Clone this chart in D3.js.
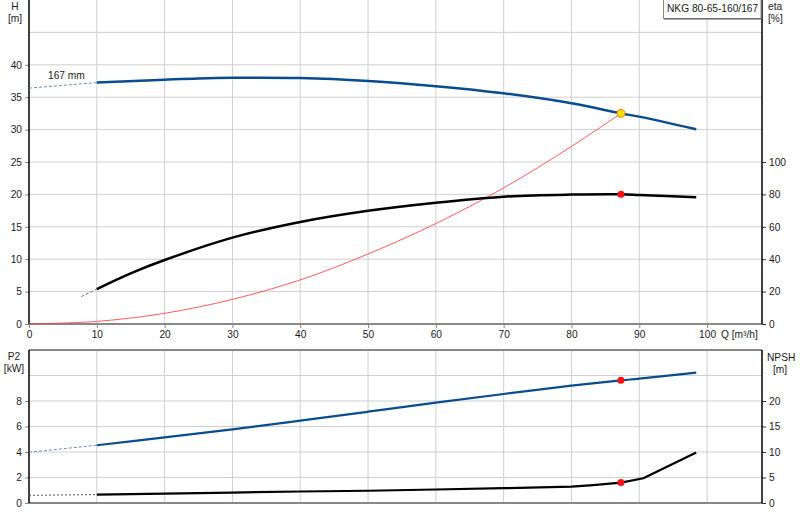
<!DOCTYPE html>
<html><head><meta charset="utf-8">
<script src="https://cdn.jsdelivr.net/npm/d3@7"></script>
<style>
body{margin:0;background:#fff;}
svg text{font-family:"Liberation Sans",Arial,sans-serif;font-size:10.2px;fill:#1a1a1a;}
</style></head>
<body><svg id="c" width="800" height="520"></svg>
<script>
// ---- data ----
const flowTicks = [0,10,20,30,40,50,60,70,80,90,100];
const headTicks = [0,5,10,15,20,25,30,35,40];
const etaTicks = [0,20,40,60,80,100];
const p2Ticks = [0,2,4,6,8];
const npshTicks = [0,5,10,15,20];

const headQ = [10,20,25,30,40,50,60,70,80,87.3,90,98.4];
const headH = [37.25,37.7,37.9,38.0,37.96,37.5,36.7,35.6,34.06,32.5,32.0,30.05];
const headExtQ = [0,10];
const headExtH = [36.4,37.25];

const etaQ = [10,15,20,30,40,50,60,70,80,87.3,90,98.4];
const etaV = [21.6,31.3,39.5,53.3,63.0,69.9,74.9,78.6,79.9,80.1,79.7,78.2];
const etaExtQ = [7.7,10];
const etaExtV = [16.9,21.6];

const sysQ = [0,10,20,30,40,50,60,70,80,87.3];
const sysH = [0,0.4,1.65,3.8,6.8,10.8,15.5,21.0,27.4,32.5];

const p2Q = [10,20,30,40,50,60,70,80,87.3,90,98.4];
const p2V = [4.53,5.14,5.78,6.46,7.16,7.87,8.55,9.2,9.62,9.75,10.22];
const p2ExtQ = [0,10];
const p2ExtV = [3.98,4.53];

const npshQ = [10,20,30,40,50,60,70,80,83.2,87.3,90.6,98.4];
const npshV = [1.65,1.85,2.05,2.25,2.4,2.65,2.9,3.2,3.5,4.0,4.85,9.9];
const npshExtQ = [0,10];
const npshExtV = [1.5,1.65];

const dutyQ = 87.3, dutyH = 32.5, dutyEta = 80.1, dutyP2 = 9.62, dutyNPSH = 4.0;
const pumpLabel = "NKG 80-65-160/167";
const impLabel = "167 mm";

// ---- layout ----
const L = 29, R = 762;
const topY0 = 324, topY1 = 0;
const botY0 = 503, botY1 = 350;
const blue = "#0a4d8c";
const FONT = "10.2px";

const svg = d3.select("#c");
const x = d3.scaleLinear().domain([0,108.1]).range([L,R]);
const yH = d3.scaleLinear().domain([0,50]).range([topY0,topY1]);
const yE = d3.scaleLinear().domain([0,200]).range([topY0,topY1]);
const yP = d3.scaleLinear().domain([0,12]).range([botY0,botY1]);
const yN = d3.scaleLinear().domain([0,30]).range([botY0,botY1]);

const grid = "#cfcfcf";
const gTop = svg.append("g");
gTop.selectAll("line.h").data(d3.range(5,50,5)).join("line")
  .attr("x1",L).attr("x2",R).attr("y1",d=>yH(d)).attr("y2",d=>yH(d))
  .attr("stroke",grid).attr("stroke-width",1);
gTop.selectAll("line.v").data(d3.range(10,101,10)).join("line")
  .attr("x1",d=>x(d)).attr("x2",d=>x(d)).attr("y1",topY1).attr("y2",topY0)
  .attr("stroke",grid).attr("stroke-width",1);
const gBot = svg.append("g");
gBot.selectAll("line.h").data(d3.range(2,12,2)).join("line")
  .attr("x1",L).attr("x2",R).attr("y1",d=>yP(d)).attr("y2",d=>yP(d))
  .attr("stroke",grid).attr("stroke-width",1);
gBot.selectAll("line.v").data(d3.range(10,101,10)).join("line")
  .attr("x1",d=>x(d)).attr("x2",d=>x(d)).attr("y1",botY1).attr("y2",botY0)
  .attr("stroke",grid).attr("stroke-width",1);

function styleAx(g, tickCol){
  g.select(".domain").remove();
  g.selectAll(".tick line").attr("stroke",tickCol);
  g.selectAll(".tick text").style("font-family","'Liberation Sans',Arial,sans-serif").style("font-size",FONT).attr("fill","#1a1a1a");
}
const axH = svg.append("g").attr("transform",`translate(${L},0)`)
  .call(d3.axisLeft(yH).tickValues(headTicks).tickSize(4).tickPadding(3));
styleAx(axH,"#888");
const axE = svg.append("g").attr("transform",`translate(${R},0)`)
  .call(d3.axisRight(yE).tickValues(etaTicks).tickSize(4).tickPadding(3));
styleAx(axE,"#333");
const axX = svg.append("g").attr("transform",`translate(0,${topY0})`)
  .call(d3.axisBottom(x).tickValues(flowTicks).tickSize(4).tickPadding(3));
styleAx(axX,"#888");
const axP = svg.append("g").attr("transform",`translate(${L},0)`)
  .call(d3.axisLeft(yP).tickValues(p2Ticks).tickSize(4).tickPadding(3));
styleAx(axP,"#888");
const axN = svg.append("g").attr("transform",`translate(${R},0)`)
  .call(d3.axisRight(yN).tickValues(npshTicks).tickSize(4).tickPadding(3));
styleAx(axN,"#333");

svg.append("line").attr("x1",L).attr("x2",R).attr("y1",topY0).attr("y2",topY0).attr("stroke","#888").attr("stroke-width",2);
svg.append("line").attr("x1",L).attr("x2",R).attr("y1",botY1).attr("y2",botY1).attr("stroke","#888").attr("stroke-width",2);
svg.append("line").attr("x1",L).attr("x2",R).attr("y1",botY0).attr("y2",botY0).attr("stroke","#888").attr("stroke-width",2);
[L,R].forEach(xx=>{
  svg.append("line").attr("x1",xx).attr("x2",xx).attr("y1",topY1).attr("y2",topY0).attr("stroke","#000").attr("stroke-width",1.5);
  svg.append("line").attr("x1",xx).attr("x2",xx).attr("y1",botY1).attr("y2",botY0).attr("stroke","#000").attr("stroke-width",1.5);
});

function pts(qs, vs){ return qs.map((q,i)=>[q,vs[i]]); }
function draw(qs, vs, ys, col, w, curve, dash){
  const line = d3.line().x(d=>x(d[0])).y(d=>ys(d[1])).curve(curve||d3.curveCatmullRom.alpha(0.5));
  const p = svg.append("path").datum(pts(qs,vs)).attr("d",line)
    .attr("fill","none").attr("stroke",col).attr("stroke-width",w).attr("stroke-linejoin","round");
  if(dash) p.attr("stroke-dasharray",dash);
  return p;
}
draw(headExtQ, headExtH, yH, "#6f8fb3", 1, d3.curveLinear, "3,2");
draw(etaExtQ, etaExtV, yE, "#777", 1, d3.curveLinear, "3,2");
draw(p2ExtQ, p2ExtV, yP, "#6f8fb3", 1, d3.curveLinear, "3,2");
draw(npshExtQ, npshExtV, yN, "#555", 1, d3.curveLinear, "2,2");

draw(sysQ, sysH, yH, "#ff4040", 1).attr("stroke-opacity",0.85);
draw(headQ, headH, yH, blue, 2.5);
draw(etaQ, etaV, yE, "#000", 2.5);
draw(p2Q, p2V, yP, blue, 2.2);
draw(npshQ, npshV, yN, "#000", 2.2, d3.curveLinear);

svg.append("circle").attr("cx",x(dutyQ)).attr("cy",yE(dutyEta)).attr("r",3.5).attr("fill","#ff1010");
svg.append("circle").attr("cx",x(dutyQ)).attr("cy",yP(dutyP2)).attr("r",3.5).attr("fill","#ff1010");
svg.append("circle").attr("cx",x(dutyQ)).attr("cy",yN(dutyNPSH)).attr("r",3.5).attr("fill","#ff1010");
svg.append("circle").attr("cx",x(dutyQ)).attr("cy",yH(dutyH)).attr("r",4).attr("fill","#ffe000").attr("stroke","#f08a00").attr("stroke-width",1);

function txt(t,xx,yy,anchor){ return svg.append("text").attr("x",xx).attr("y",yy).attr("text-anchor",anchor||"middle").text(t); }
txt("H",15,10); txt("[m]",15,22);
txt("eta",768,10,"start"); txt("[%]",768,22,"start");
txt("P2",14,360); txt("[kW]",14,372);
txt("NPSH",767,361,"start"); txt("[m]",780,373);
txt("Q [m³/h]",721,338,"start");
txt(impLabel,48,79,"start");

svg.append("rect").attr("x",663.5).attr("y",-1).attr("width",97.5).attr("height",19.5)
  .attr("fill","#fff").attr("stroke","#8a8a8a").attr("stroke-width",1);
svg.append("line").attr("x1",664).attr("x2",761).attr("y1",19).attr("y2",19).attr("stroke","#555").attr("stroke-width",1);
txt(pumpLabel,667,12,"start");
</script></body></html>
